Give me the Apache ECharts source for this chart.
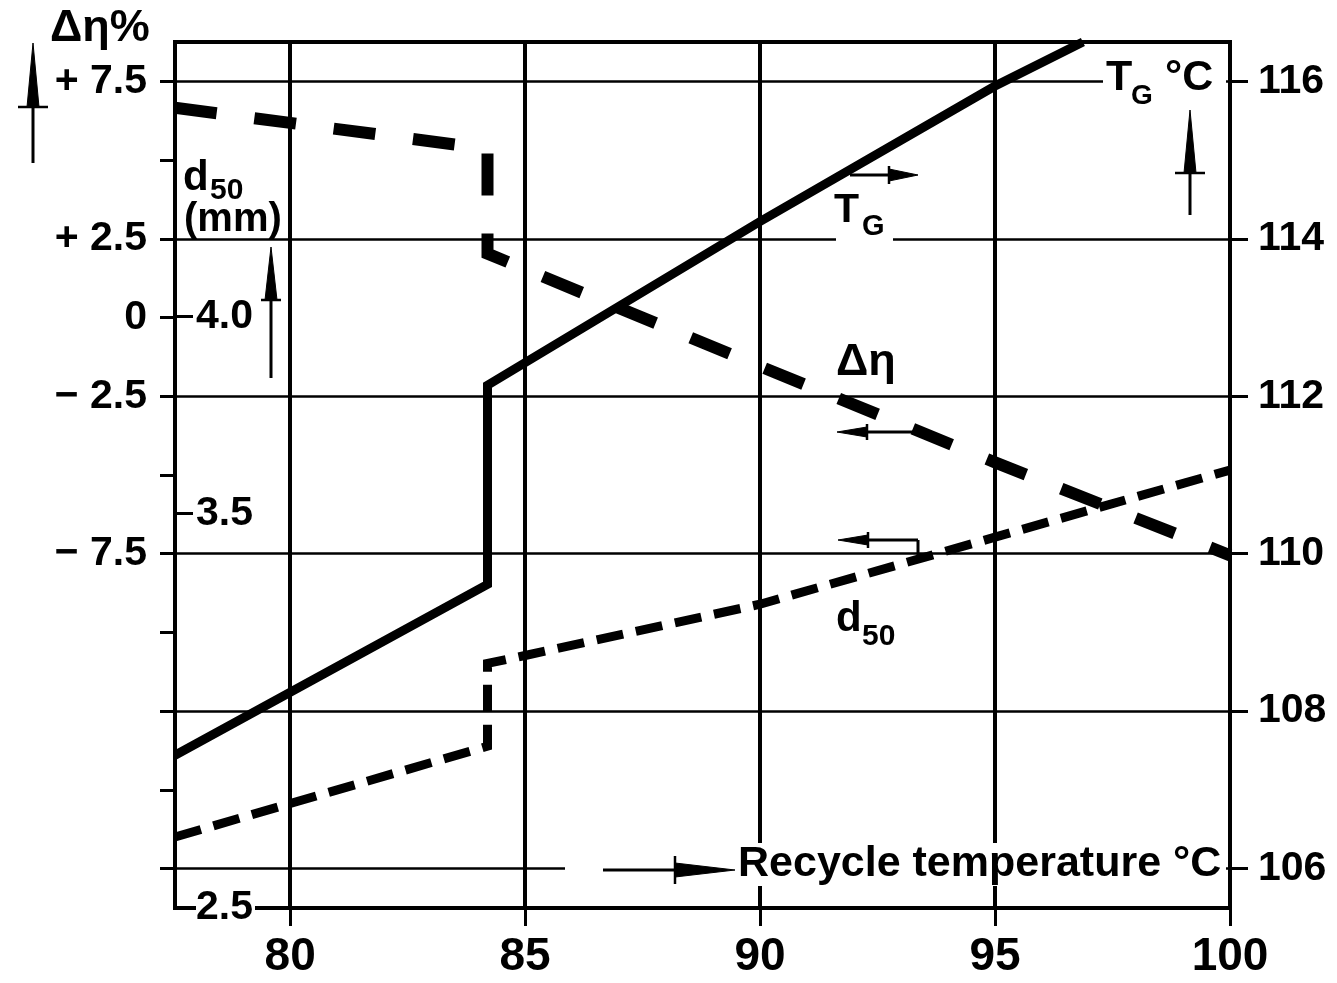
<!DOCTYPE html>
<html><head><meta charset="utf-8">
<script src="https://cdn.jsdelivr.net/npm/echarts@6/dist/echarts.min.js"></script>
<style>html,body{margin:0;padding:0;background:#fff}#c{width:1337px;height:983px}</style>
</head><body><div id="c"></div>
<script>
// ---- data ----
const xTicks = [80, 85, 90, 95, 100];
const tgTicks = [106, 108, 110, 112, 114, 116];
const detaTicks = [-17.5, -15, -12.5, -10, -7.5, -5, -2.5, 0, 2.5, 5, 7.5];
const detaLabels = [7.5, 2.5, 0, -2.5, -7.5];
const d50Ticks = [2.5, 3.5, 4.0];
// [recycle temperature °C, value]
const tgData = [[77.55, 107.44], [84.2, 109.61], [84.2, 112.14], [90, 114.22], [95, 115.94], [96.87, 116.5]];
const detaData = [[77.55, 6.66], [84.2, 5.36], [84.2, 2.03], [90, -1.55], [95, -4.6], [100, -7.55]];
const d50Data = [[77.55, 2.68], [84.2, 2.91], [84.2, 3.12], [85, 3.14], [90, 3.27], [95, 3.44], [100, 3.61]];

const FF = '"Liberation Sans", Arial, sans-serif';
const chart = echarts.init(document.getElementById('c'), null, {renderer: 'canvas'});

function fmtDeta(v) {
  if (v > 0) return '+ ' + v;
  if (v < 0) return '\u2212 ' + Math.abs(v);
  return '0';
}

chart.setOption({
  animation: false,
  backgroundColor: '#fff',
  grid: {left: 175, right: 107, top: 42, bottom: 75, show: true, borderColor: '#000', borderWidth: 4, backgroundColor: 'transparent'},
  xAxis: {
    type: 'value', min: 77.55, max: 100,
    axisLine: {show: true, onZero: false, lineStyle: {color: '#000', width: 4}},
    axisTick: {show: true, customValues: xTicks, length: 18, lineStyle: {color: '#000', width: 3}},
    axisLabel: {customValues: xTicks, color: '#000', fontSize: 46, fontWeight: 'bold', fontFamily: FF, margin: 26},
    splitLine: {show: true, lineStyle: {color: '#000', width: 4}}
  },
  yAxis: [
    { // T_G, right
      type: 'value', position: 'right', min: 105.5, max: 116.5,
      axisLine: {show: true, onZero: false, lineStyle: {color: '#000', width: 4}},
      axisTick: {show: true, customValues: tgTicks, length: 18, lineStyle: {color: '#000', width: 3}},
      axisLabel: {customValues: tgTicks, color: '#000', fontSize: 41, fontWeight: 'bold', fontFamily: FF, margin: 28},
      splitLine: {show: true, lineStyle: {color: '#000', width: 2.5}}
    },
    { // delta eta, left
      type: 'value', position: 'left', min: -18.75, max: 8.75,
      axisLine: {show: true, onZero: false, lineStyle: {color: '#000', width: 4}},
      axisTick: {show: true, customValues: detaTicks, length: 15, lineStyle: {color: '#000', width: 3}},
      axisLabel: {customValues: detaLabels, formatter: fmtDeta, color: '#000', fontSize: 41, fontWeight: 'bold', fontFamily: FF, margin: 28},
      splitLine: {show: false}
    },
    { // d50, left inside
      type: 'value', position: 'left', min: 2.5, max: 4.695, z: 5,
      axisLine: {show: false, onZero: false},
      axisTick: {show: true, inside: true, customValues: d50Ticks, length: 18, lineStyle: {color: '#000', width: 3}},
      axisLabel: {inside: true, customValues: d50Ticks, formatter: v => v.toFixed(1), color: '#000', fontSize: 41, fontWeight: 'bold', fontFamily: FF, margin: 21, backgroundColor: '#fff', padding: [0, 2, 0, 0]},
      splitLine: {show: false}
    }
  ],
  series: [
    {name: 'TG', type: 'line', yAxisIndex: 0, data: tgData, symbol: 'none', z: 3,
     lineStyle: {color: '#000', width: 9, type: 'solid', cap: 'butt', join: 'miter'}},
    {name: 'deta', type: 'line', yAxisIndex: 1, data: detaData, symbol: 'none', z: 3,
     lineStyle: {color: '#000', width: 12, type: [42, 38], cap: 'butt', join: 'miter'}},
    {name: 'd50', type: 'line', yAxisIndex: 2, data: d50Data, symbol: 'none', z: 3,
     lineStyle: {color: '#000', width: 9, type: [27, 13], cap: 'butt', join: 'miter'}}
  ]
});

// ---- annotations ----
const G = [];
function txt(x, y, s, size) {
  const font = 'bold ' + size + 'px ' + FF;
  G.push({type: 'text', x: x, y: y, z: 20, style: {text: s, font: font, fontSize: size, fontWeight: 'bold', fontFamily: FF,
    fill: '#000', align: 'left', verticalAlign: 'middle', textAlign: 'left', textVerticalAlign: 'middle'}});
}
function rect(x, y, w, h) {
  G.push({type: 'rect', z: 15, shape: {x: x, y: y, width: w, height: h}, style: {fill: '#fff', stroke: null}});
}
function line(pts, w) {
  G.push({type: 'polyline', z: 20, shape: {points: pts}, style: {stroke: '#000', lineWidth: w, fill: null}});
}
function poly(pts) {
  G.push({type: 'polygon', z: 20, shape: {points: pts}, style: {fill: '#000', stroke: '#000', lineWidth: 1}});
}
function vArrow(x, tip, base, end, hw, cw) {
  poly([[x, tip], [x - hw, base], [x + hw, base]]);
  line([[x - cw, base], [x + cw, base]], 2.5);
  line([[x, base], [x, end]], 3);
}
function hArrow(y, tip, base, end, hw, ch) {
  poly([[tip, y], [base, y - hw], [base, y + hw]]);
  line([[base, y - ch], [base, y + ch]], 2.5);
  line([[base, y], [end, y]], 3);
}

// white gaps in grid lines behind labels
rect(1103, 72, 123, 16);
rect(836, 231, 57, 14);
rect(565, 862, 661, 15);
rect(737, 843, 489, 43);

// axis titles
txt(50, 29, '\u0394\u03b7%', 45);
vArrow(33, 43, 107, 163, 6, 15);

txt(183, 178, 'd', 42);
txt(210, 191, '50', 30);
txt(184, 220, '(mm)', 40);
vArrow(271, 247, 300, 378, 6, 10);

txt(1106, 78, 'T', 43);
txt(1131, 96, 'G', 28);
txt(1165, 78, '\u00b0C', 43);
vArrow(1190, 110, 173, 215, 6, 15);

// curve labels
txt(834, 211, 'T', 41);
txt(862, 227, 'G', 29);
hArrow(175, 918, 889, 850, 6, 9);

txt(836, 363, '\u0394\u03b7', 45);
hArrow(432, 837, 867, 913, 5, 8);

txt(836, 619, 'd', 42);
txt(862, 637, '50', 30);
hArrow(540, 838, 868, 918, 5, 8);
line([[918, 540], [918, 556]], 3);

// x-axis title
hArrow(870, 735, 675, 603, 7, 14);
txt(738, 864, 'Recycle temperature \u00b0C', 43);

chart.setOption({graphic: {elements: G}});
</script>
</body></html>
